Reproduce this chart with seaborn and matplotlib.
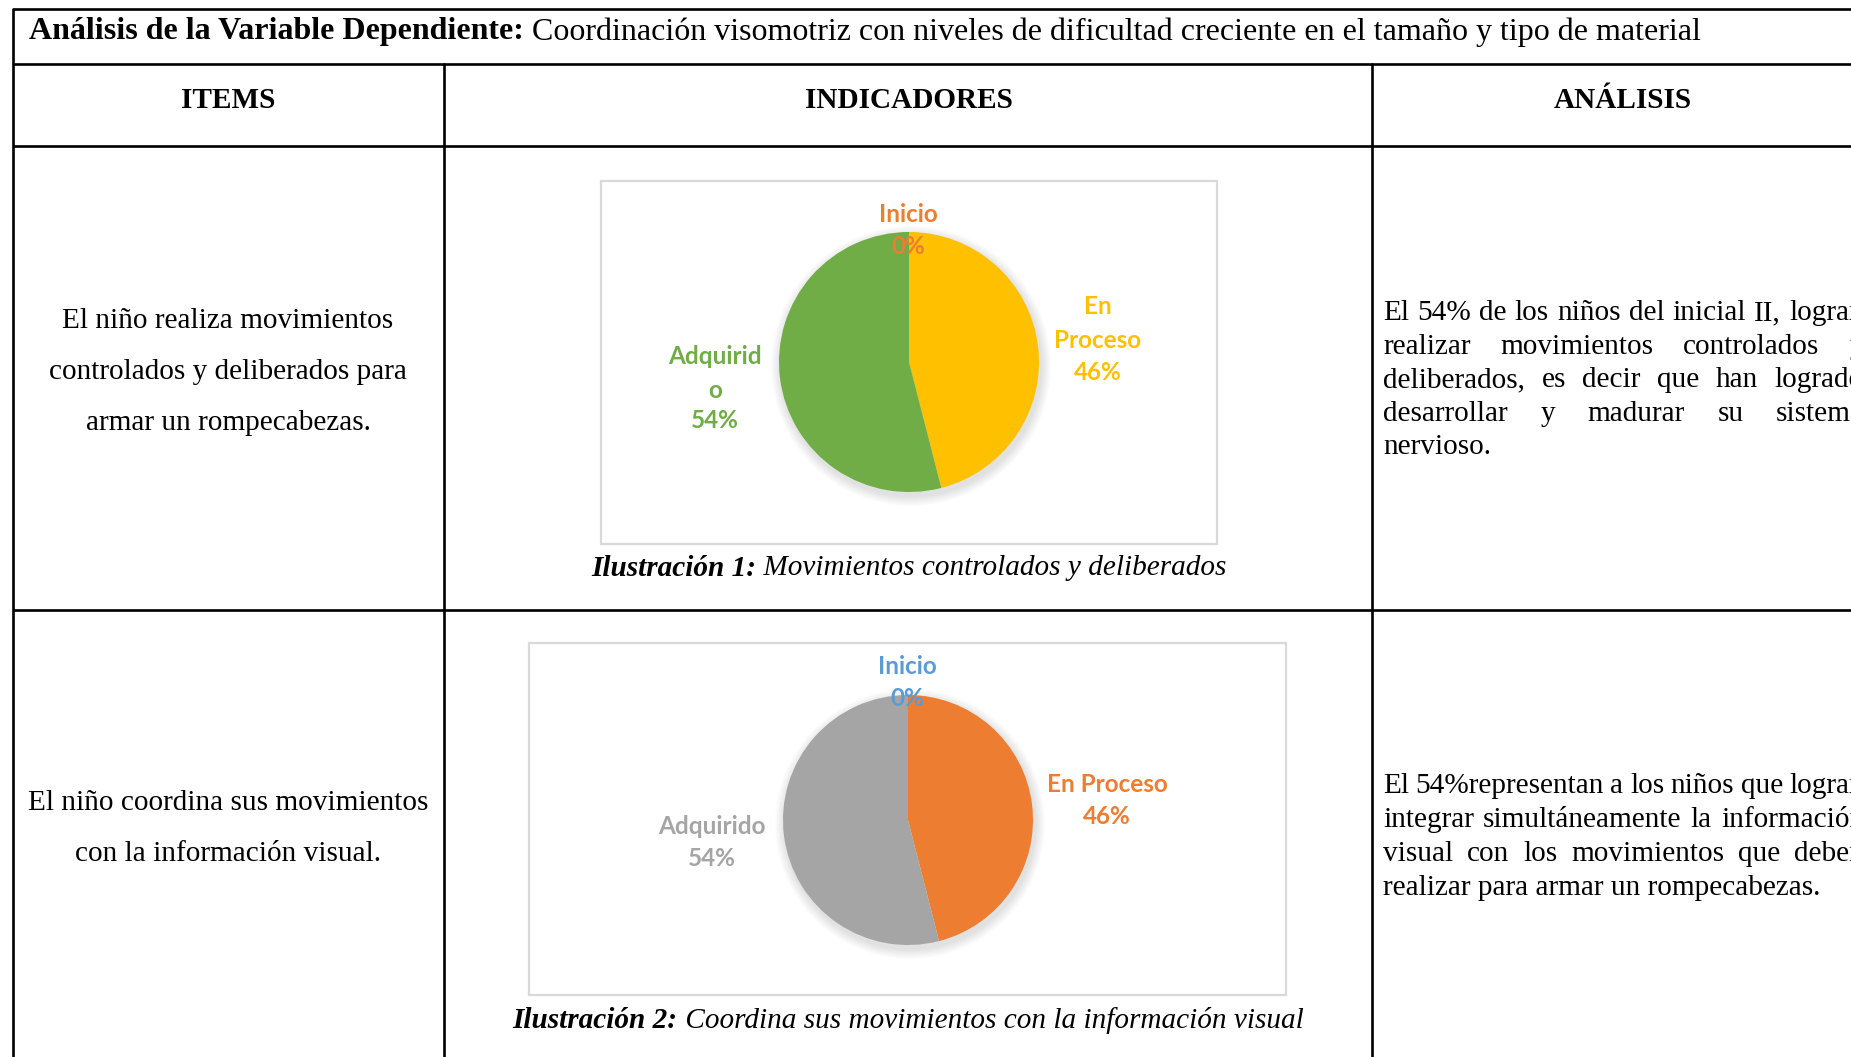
import matplotlib
matplotlib.use("Agg")
import matplotlib.pyplot as plt
import seaborn as sns
from matplotlib.patches import Rectangle, Circle

# ---------------- data ----------------
categories = ["Inicio", "En Proceso", "Adquirido"]
values_1 = [0, 46, 54]
values_2 = [0, 46, 54]
colors_1 = ["#ED7D31", "#FFC000", "#70AD47"]
colors_2 = ["#5B9BD5", "#ED7D31", "#A5A5A5"]

title_bold = "Análisis de la Variable Dependiente:"
title_rest = " Coordinación visomotriz con niveles de dificultad creciente en el tamaño y tipo de material"
headers = ["ITEMS", "INDICADORES", "ANÁLISIS"]
items = [["El niño realiza movimientos", "controlados y deliberados para", "armar un rompecabezas."],
         ["El niño coordina sus movimientos", "con la información visual."]]
analysis = [["El 54% de los niños del inicial II, logran",
             "realizar movimientos controlados y",
             "deliberados, es decir que han logrado",
             "desarrollar y madurar su sistema",
             "nervioso."],
            ["El 54%representan a los niños que logran",
             "integrar simultáneamente la información",
             "visual con los movimientos que deben",
             "realizar para armar un rompecabezas."]]
captions = [("Ilustración 1:", " Movimientos controlados y deliberados"),
            ("Ilustración 2:", " Coordina sus movimientos con la información visual")]

# ---------------- style ----------------
sns.set_theme(style="white")
plt.rcParams['font.family'] = ['Liberation Serif', 'DejaVu Serif']
plt.rcParams['text.color'] = 'black'

W, H = 1851, 1057
fig = plt.figure(figsize=(W / 100, H / 100), dpi=100)
ax = fig.add_axes([0, 0, 1, 1])
ax.set_xlim(0, W)
ax.set_ylim(0, H)
ax.axis("off")
renderer = fig.canvas.get_renderer()


def Y(y):
    return H - y


SERIF = ['Liberation Serif', 'DejaVu Serif']
SANS = ['Lato', 'DejaVu Sans']
FS = 21.1
FS_T = 23.0
LW = 1.9

# ---------------- table grid ----------------
top, r1, r2, r3 = 9, 64, 146, 610
xl, c1, c2 = 13, 444, 1372
for yy in (top, r1, r2, r3):
    ax.plot([xl, W + 5], [Y(yy), Y(yy)], color="black", lw=LW, solid_capstyle="butt")
ax.plot([xl, xl], [Y(top), -5], color="black", lw=LW)
for xx in (c1, c2):
    ax.plot([xx, xx], [Y(r1), -5], color="black", lw=LW)


def textw(s, **kw):
    t = ax.text(0, 0, s, **kw)
    w = t.get_window_extent(renderer).width
    t.remove()
    return w


# title
t_kw_b = dict(fontsize=FS, family=SERIF, weight="bold", color="black")
t_kw_r = dict(fontsize=FS, family=SERIF, color="black")
tt_b = dict(fontsize=FS_T, family=SERIF, weight="bold", color="black")
tt_r = dict(fontsize=FS_T, family=SERIF, color="black")
wb = textw(title_bold, **tt_b)
ax.text(29, Y(32), title_bold, va="center", ha="left", **tt_b)
ax.text(29 + wb, Y(32), title_rest, va="center", ha="left", **tt_r)

# headers
for hx, h in zip([228, 909, 1623], headers):
    ax.text(hx, Y(100), h, ha="center", va="center", **t_kw_b)

# item texts
for lines, ys in zip(items, [[321, 372, 423], [803, 854]]):
    for line, yy in zip(lines, ys):
        ax.text(228, Y(yy), line, ha="center", va="center", **t_kw_r)


# justified analysis text
def justified(lines, ys, x0, x1):
    for i, (line, yy) in enumerate(zip(lines, ys)):
        words = line.split(" ")
        if i == len(lines) - 1 or len(words) == 1:
            ax.text(x0, Y(yy), line, ha="left", va="center", **t_kw_r)
            continue
        widths = [textw(w, **t_kw_r) for w in words]
        gap = (x1 - x0 - sum(widths)) / (len(words) - 1)
        x = x0
        for w, wd in zip(words, widths):
            ax.text(x, Y(yy), w, ha="left", va="center", **t_kw_r)
            x += wd + gap


justified(analysis[0], [313, 347, 380, 414, 447], 1383, 1864)
justified(analysis[1], [786, 820, 854, 888], 1383, 1864)

# ---------------- pie charts ----------------
pies = [
    dict(vals=values_1, cols=colors_1, box=(601, 181, 1217, 544), c=(909, 362), r=130),
    dict(vals=values_2, cols=colors_2, box=(529, 643, 1286, 995), c=(908, 820), r=125),
]
for p in pies:
    bx0, by0, bx1, by1 = p["box"]
    ax.add_patch(Rectangle((bx0, Y(by1)), bx1 - bx0, by1 - by0, fill=False,
                           edgecolor="#D9D9D9", lw=1.6, zorder=1))
    cx, cy = p["c"]
    # soft shadow
    for k in range(10):
        ax.add_patch(Circle((cx + 2, Y(cy) - 4), p["r"] + 10 - k, color="black",
                            alpha=0.012, lw=0, zorder=2))
    ax.pie(p["vals"], colors=p["cols"], startangle=90, counterclock=False,
           center=(cx, Y(cy)), radius=p["r"], frame=True,
           wedgeprops=dict(linewidth=0, zorder=3))

ax.set_xlim(0, W)
ax.set_ylim(0, H)
ax.set_aspect("auto")
ax.axis("off")

L_FS = 17.5
lab = dict(fontsize=L_FS, family=SANS, weight="bold", ha="center", va="center", zorder=5)

# pie 1 labels
ax.text(908, Y(214), categories[0], color=colors_1[0], **lab)
ax.text(908, Y(246), f"{values_1[0]}%", color=colors_1[0], **lab)
for s, yy in zip(["En", "Proceso", f"{values_1[1]}%"], [307, 340, 373]):
    ax.text(1098, Y(yy), s, color=colors_1[1], **lab)
for s, yy in zip(["Adquirid", "o", f"{values_1[2]}%"], [356, 390, 421]):
    ax.text(715, Y(yy), s, color=colors_1[2], **lab)

# pie 2 labels
ax.text(907, Y(666), categories[0], color=colors_2[0], **lab)
ax.text(907, Y(698), f"{values_2[0]}%", color=colors_2[0], **lab)
ax.text(1107, Y(784), categories[1], color=colors_2[1], **lab)
ax.text(1107, Y(816), f"{values_2[1]}%", color=colors_2[1], **lab)
ax.text(712, Y(827), categories[2], color=colors_2[2], **lab)
ax.text(712, Y(859), f"{values_2[2]}%", color=colors_2[2], **lab)

# captions
cap_b = dict(fontsize=FS, family=SERIF, weight="bold", style="italic", color="black")
cap_r = dict(fontsize=FS, family=SERIF, style="italic", color="black")
for (cb, cr), cxx, cyy in zip(captions, [909, 908], [568, 1020]):
    w1 = textw(cb, **cap_b)
    w2 = textw(cr, **cap_r)
    x0 = cxx - (w1 + w2) / 2
    ax.text(x0, Y(cyy), cb, ha="left", va="center", **cap_b)
    ax.text(x0 + w1, Y(cyy), cr, ha="left", va="center", **cap_r)

fig.savefig("out.png", dpi=100, facecolor="white")
